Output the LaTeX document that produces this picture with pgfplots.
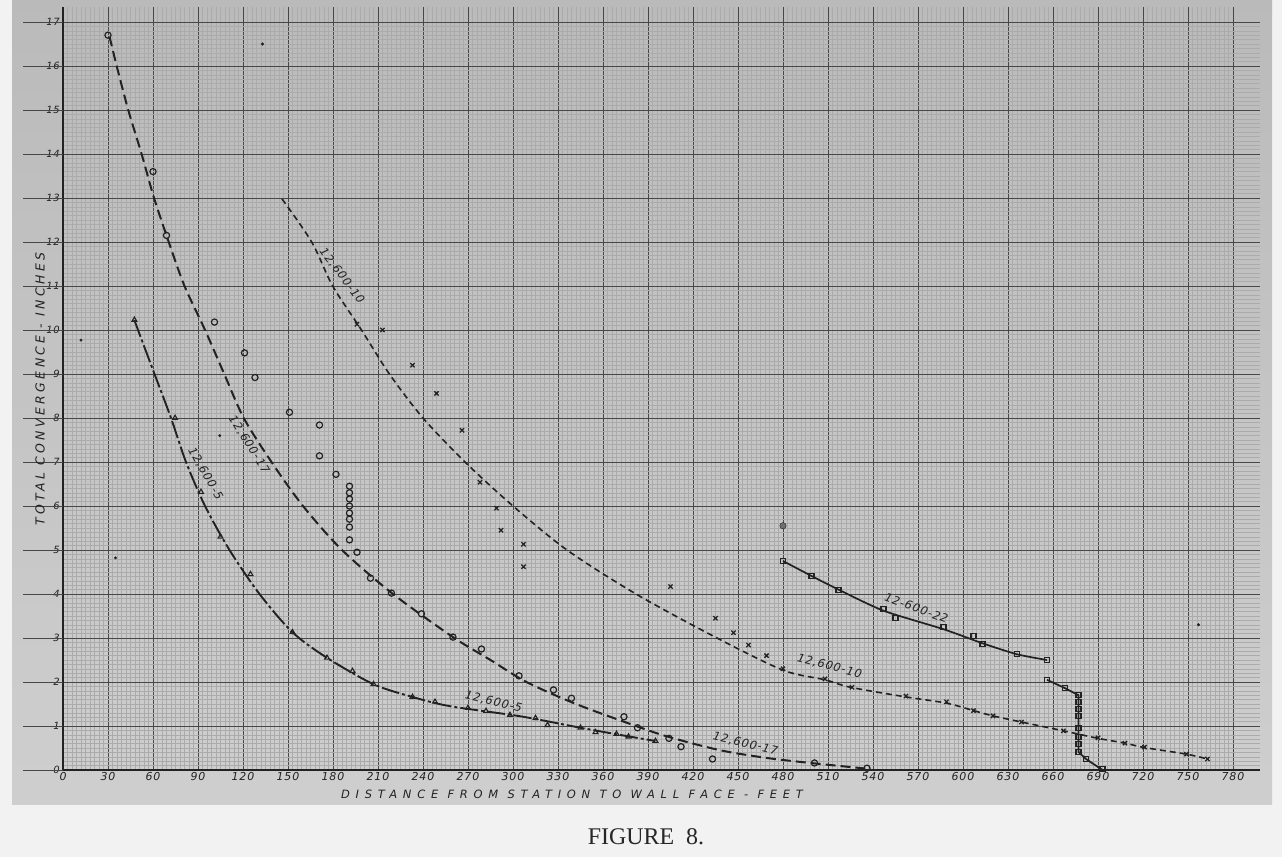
\documentclass[border=0pt]{standalone}
\usepackage{fontspec}
\setmainfont{Liberation Serif}
\newfontfamily\hand[LetterSpace=8]{DejaVu Sans}
\newfontfamily\handx[LetterSpace=50]{DejaVu Sans}
\newfontfamily\handy[LetterSpace=27]{DejaVu Sans}
\usepackage{pgfplots}
\pgfplotsset{compat=1.18}
\definecolor{ink}{HTML}{222222}
\definecolor{gridmaj}{HTML}{474747}
\definecolor{gridmin}{HTML}{ABABAB}
\begin{document}
\begin{tikzpicture}
\useasboundingbox (0bp,0bp) rectangle (1282bp,857bp);
\fill[white!95!black] (0bp,0bp) rectangle (1282bp,857bp);
\shade[top color=black!27, bottom color=black!19] (12bp,52bp) rectangle (1272bp,857bp);
\begin{axis}[
  at={(63bp,87bp)}, anchor=south west, scale only axis,
  width=1197bp, height=763.4bp,
  xmin=0, xmax=798, ymin=0, ymax=17.35,
  axis x line=bottom, axis y line=left,
  axis line style={-, line width=2.2bp, ink},
  xtick={0,30,...,780}, ytick={0,1,...,17},
  minor x tick num=9, minor y tick num=9,
  grid=both,
  major grid style={line width=0.9bp, gridmaj},
  minor grid style={line width=0.35bp, gridmin},
  major tick length=0pt, minor tick length=0pt,
  tick label style={font=\hand\itshape\fontsize{10}{11}\selectfont, text=ink, inner sep=1bp},
  /pgf/number format/assume math mode=true,
  /pgf/number format/1000 sep={},
  xticklabel style={yshift=-1bp, font=\hand\itshape\fontsize{11}{12}\selectfont},
  yticklabel style={xshift=-2bp},
  clip=false,
]
\pgfplotsinvokeforeach{0,...,17}{\draw[gridmaj, line width=0.9bp] (axis cs:0,#1) -- ++(-40bp,0bp);}

% 12,600-17 curve
\addplot[ink, line width=2bp, dash pattern=on 10bp off 5bp, smooth, tension=0.5] coordinates {
(31,16.67)(35.8,16)(43.5,15)(52.4,14)(60.7,13)(70.5,12)(81,11)(94.7,10)(107.5,9)(120.5,8)(139,7)(160,6)(186,5)(220,4)(260,3.02)(285,2.5)(309,2.0)(342,1.5)(382,1.0)(404,0.75)(438,0.45)(470,0.27)(501,0.15)(536,0.03)};
% 12,600-17 points
\addplot[only marks, mark=o, mark size=3.1bp, ink, line width=1.2bp] coordinates {
(30,16.7)(60,13.6)(69,12.15)(101,10.18)(121,9.48)(128,8.92)(151,8.13)(171,7.84)(171,7.14)(182,6.72)
(191,6.45)(191,6.3)(191,6.16)(191,6.0)(191,5.84)(191,5.7)(191,5.52)(191,5.23)(196,4.95)(205,4.36)
(219,4.02)(239,3.55)(260,3.02)(279,2.75)(304,2.14)(327,1.82)(339,1.63)(374,1.21)(383,0.96)(404,0.72)
(412,0.53)(433,0.25)(501,0.16)(536,0.04)};

% 12,600-5 curve
\addplot[ink, line width=1.9bp, dash pattern=on 18bp off 3bp on 3bp off 3bp, smooth, tension=0.5] coordinates {
(47.6,10.23)(50,10)(61,9)(72,8)(82,7)(94.7,6)(111,5)(131,4)(153,3.13)(176,2.55)(207,1.95)(233,1.66)(258,1.45)(305,1.22)(345,0.96)(376,0.77)(395,0.66)};
\addplot[only marks, mark=triangle, mark size=2.8bp, ink, line width=1.1bp] coordinates {
(47.6,10.23)(74.7,8.0)(92,6.32)(105,5.3)(125,4.45)(153,3.13)(176,2.55)(193,2.25)(207,1.95)(233,1.66)
(248,1.55)(270,1.41)(282,1.34)(298,1.25)(315,1.18)(323,1.02)(345,0.96)(355,0.86)(369,0.82)(377,0.76)(395,0.66)};

% 12,600-10 curve
\addplot[ink, line width=1.6bp, dash pattern=on 6bp off 4bp, smooth, tension=0.5] coordinates {
(146,12.98)(165.8,12)(179.8,11)(199,10)(217.6,9)(240,8)(268,7)(300,6)(336,5)(382,4)(436,3)(480,2.27)(508,2.05)(525,1.88)(562,1.66)(589,1.52)(607,1.35)(620,1.23)(639,1.09)(667,0.89)(690,0.72)(708,0.61)(721,0.51)(749,0.36)(763,0.25)};
\addplot[only marks, mark=x, mark size=3bp, ink, line width=1.3bp] coordinates {
(196,10.13)(213,10.0)(233,9.2)(249,8.56)(266,7.72)(278,6.54)(289,5.95)(292,5.45)(307,5.13)(307,4.62)
(405,4.17)(435,3.45)(447,3.12)(457,2.84)(469,2.6)(480,2.3)(508,2.07)(526,1.88)(562,1.68)(589,1.55)
(607,1.35)(620,1.23)(639,1.09)(667,0.89)(690,0.73)(708,0.61)(721,0.52)(749,0.36)(763,0.25)};

% 12-600-22
\addplot[ink, line width=1.7bp, smooth, tension=0.4] coordinates {
(480,4.75)(499,4.41)(517,4.1)(547,3.62)(587,3.2)(613,2.88)(636,2.63)(656,2.5)};
\addplot[ink, line width=1.7bp] coordinates {
(656,2.05)(668,1.86)(677,1.7)(677,0.41)(682,0.25)(693,0.0)};
\addplot[only marks, mark=square, mark size=2.5bp, ink, line width=1.1bp] coordinates {
(480,4.75)(499,4.41)(517,4.1)(547,3.65)(555,3.46)(587,3.24)(607,3.05)(613,2.86)(636,2.63)(656,2.5)
(656,2.05)(668,1.86)(677,1.7)(677,1.55)(677,1.39)(677,1.23)(677,0.95)(677,0.75)(677,0.59)(677,0.41)
(682,0.25)(693,0.02)};

% lone points
\addplot[only marks, mark=*, mark size=3.2bp, ink, mark options={fill=ink!65}] coordinates {(480,5.55)};
\addplot[only marks, mark=*, mark size=1.3bp, ink] coordinates {(133,16.5)(12,9.77)(35,4.82)(757,3.3)(104.5,7.6)};

% curve labels
\node[rotate=-58, font=\hand\itshape\fontsize{11.5}{12}\selectfont, text=ink] at (axis cs:124,7.4) {12,600-17};
\node[rotate=-60, font=\hand\itshape\fontsize{11.5}{12}\selectfont, text=ink] at (axis cs:95,6.73) {12,600-5};
\node[rotate=-53, font=\hand\itshape\fontsize{11.5}{12}\selectfont, text=ink] at (axis cs:186,11.23) {12,600-10};
\node[rotate=-13, font=\hand\itshape\fontsize{11.5}{12}\selectfont, text=ink] at (axis cs:287,1.55) {12,600-5};
\node[rotate=-13.4, font=\hand\itshape\fontsize{11.5}{12}\selectfont, text=ink] at (axis cs:455,0.6) {12,600-17};
\node[rotate=-14.5, font=\hand\itshape\fontsize{11.5}{12}\selectfont, text=ink] at (axis cs:511,2.36) {12,600-10};
\node[rotate=-20, font=\hand\itshape\fontsize{11.5}{12}\selectfont, text=ink] at (axis cs:569,3.68) {12-600-22};
\end{axis}
\node[rotate=90, font=\handy\itshape\fontsize{12.5}{13}\selectfont, text=ink] at (40bp,468bp) {TOTAL CONVERGENCE - INCHES};
\node[font=\handx\itshape\fontsize{11.5}{12}\selectfont, text=ink] at (572bp,63bp) {DISTANCE FROM STATION TO WALL FACE - FEET};
\node[font=\fontsize{24}{26}\selectfont, text=black!85] at (646bp,20bp) {FIGURE\ \ 8.};
\end{tikzpicture}
\end{document}
